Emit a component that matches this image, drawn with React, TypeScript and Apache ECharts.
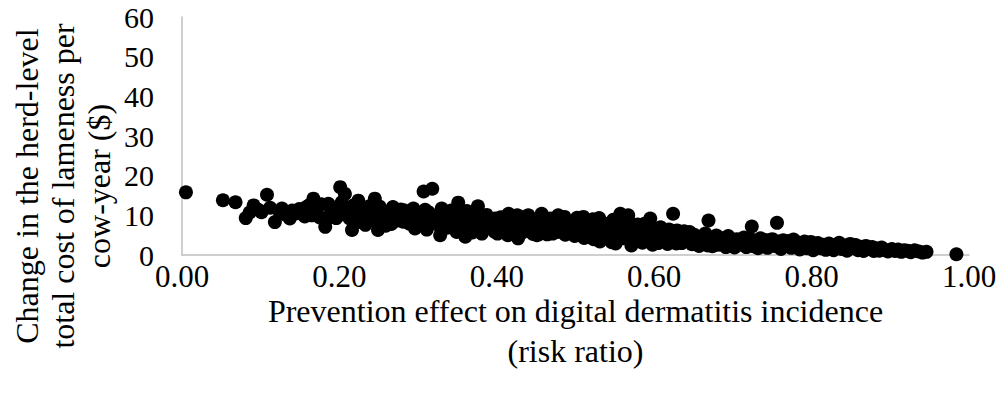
import React, { useEffect, useRef } from "react";
import * as echarts from "echarts";

// Times-compatible serif face
const FONT = '"Liberation Serif", "Times New Roman", serif';

const xTitle = "Prevention effect on digital dermatitis incidence\n(risk ratio)";
const yTitle = "Change in the herd-level\ntotal cost of lameness per\ncow-year ($)";

const xMin = 0;
const xMax = 1;
const xStep = 0.2;
const yMin = 0;
const yMax = 60;
const yStep = 10;

// [risk ratio, change in cost per cow-year ($)]
const tailPoints: [number, number][] = [
  [0.005, 15.8], [0.052, 13.8], [0.068, 13.3],
  [0.081, 9.3], [0.086, 10.7], [0.091, 12.5], [0.097, 11.4], [0.101, 10.8], [0.108, 15.2], [0.112, 11.9], [0.118, 8.3],
  [0.124, 10.9], [0.127, 11.7], [0.131, 10.2], [0.137, 9.2], [0.14, 11.2], [0.145, 10.5], [0.149, 11.6], [0.152, 10.8], [0.156, 9.7], [0.158, 12.1],
  [0.162, 12.6], [0.165, 10.0], [0.167, 14.2], [0.171, 11.4], [0.175, 9.5], [0.177, 12.8], [0.182, 7.1], [0.184, 9.0], [0.186, 12.9], [0.189, 10.6], [0.193, 11.7], [0.196, 9.3], [0.199, 12.2],
];

const lowRatioPoints: [number, number][] = [
  [0.201, 17.1], [0.203, 13.3], [0.205, 10.3], [0.207, 15.4], [0.21, 11.2], [0.213, 9.2], [0.216, 6.3], [0.218, 12.5], [0.22, 8.2], [0.222, 10.6], [0.224, 13.7], [0.226, 11.5], [0.228, 8.3], [0.231, 11.9], [0.233, 7.6], [0.235, 9.7], [0.238, 12.3],
  [0.242, 9.1], [0.245, 14.2], [0.247, 11.2], [0.249, 6.3], [0.251, 12.2], [0.254, 10.8], [0.257, 8.6], [0.259, 7.4], [0.262, 9.9], [0.264, 11.1], [0.266, 7.8], [0.268, 12.1], [0.271, 10.5], [0.274, 8.7], [0.276, 9.4], [0.278, 11.5],
  [0.281, 8.4], [0.283, 11.2], [0.286, 9.5], [0.289, 7.9], [0.292, 10.4], [0.294, 11.7], [0.296, 6.7], [0.298, 8.9], [0.302, 9.6], [0.305, 7.6], [0.307, 16.0], [0.309, 11.4], [0.311, 6.4], [0.313, 10.8], [0.316, 8.6], [0.318, 16.7], [0.319, 9.8],
  [0.322, 7.9], [0.325, 10.1], [0.328, 5.0], [0.33, 11.7], [0.331, 7.2], [0.334, 8.8], [0.337, 6.9], [0.339, 9.9], [0.342, 11.2], [0.344, 9.4], [0.347, 7.5], [0.349, 5.8], [0.351, 13.2], [0.353, 10.5], [0.356, 8.2], [0.358, 6.2],
  [0.36, 4.6], [0.362, 11.1], [0.364, 9.1], [0.367, 7.1], [0.369, 5.7], [0.371, 10.3], [0.374, 8.5], [0.376, 12.3], [0.378, 6.6], [0.381, 5.4], [0.383, 9.6], [0.384, 8.0], [0.387, 10.1], [0.389, 7.4], [0.391, 6.8], [0.394, 8.9], [0.397, 5.9], [0.398, 9.2],
];

const midRatioPoints: [number, number][] = [
  [0.401, 5.4], [0.402, 7.7], [0.405, 9.5], [0.407, 8.7], [0.408, 6.3], [0.411, 8.2], [0.414, 5.0], [0.415, 10.4], [0.418, 7.1], [0.421, 9.1], [0.424, 6.8], [0.426, 10.0], [0.427, 4.2], [0.429, 8.0], [0.432, 5.6], [0.433, 6.5], [0.435, 9.5], [0.438, 7.3],
  [0.44, 10.0], [0.443, 7.9], [0.445, 9.1], [0.446, 5.3], [0.449, 8.6], [0.451, 5.0], [0.452, 6.6], [0.455, 5.4], [0.457, 10.4], [0.458, 7.6], [0.462, 8.4], [0.464, 5.2], [0.465, 6.2], [0.468, 9.2], [0.47, 8.0], [0.471, 5.4], [0.474, 7.4], [0.477, 5.8], [0.478, 10.0],
  [0.481, 9.2], [0.484, 6.9], [0.486, 9.6], [0.487, 5.1], [0.49, 8.3], [0.493, 5.6], [0.494, 6.4], [0.496, 7.6], [0.499, 4.8], [0.502, 9.4], [0.503, 7.0], [0.505, 5.2], [0.508, 7.8], [0.51, 9.6], [0.511, 4.3], [0.514, 8.6], [0.517, 6.2], [0.519, 4.6],
  [0.522, 9.0], [0.523, 4.0], [0.525, 5.8], [0.528, 7.4], [0.53, 9.3], [0.531, 3.4], [0.534, 8.2], [0.537, 4.8], [0.539, 6.6], [0.542, 7.8], [0.545, 5.3], [0.546, 3.2], [0.548, 8.9], [0.551, 2.9], [0.553, 8.2], [0.554, 6.6], [0.557, 10.4], [0.559, 4.2],
  [0.562, 7.2], [0.563, 5.5], [0.565, 4.7], [0.567, 10.0], [0.568, 8.4], [0.571, 2.4], [0.574, 6.1], [0.577, 3.6], [0.579, 7.7], [0.582, 6.5], [0.584, 5.3], [0.585, 3.1], [0.588, 7.9], [0.591, 4.8], [0.593, 6.9], [0.595, 9.2], [0.598, 2.6], [0.599, 4.1],
];

const highRatioPoints: [number, number][] = [
  [0.602, 6.3], [0.605, 3.0], [0.606, 3.9], [0.608, 7.0], [0.611, 4.6], [0.614, 5.8], [0.617, 2.8], [0.619, 6.4], [0.622, 5.2], [0.624, 10.4], [0.626, 3.5], [0.628, 2.9], [0.629, 6.2], [0.632, 4.5], [0.635, 3.0], [0.636, 5.3], [0.638, 6.0],
  [0.642, 4.1], [0.645, 5.8], [0.646, 5.0], [0.648, 2.7], [0.651, 5.1], [0.654, 3.5], [0.657, 2.3], [0.659, 4.6], [0.662, 3.8], [0.665, 5.4], [0.668, 2.4], [0.669, 8.7], [0.671, 4.5], [0.674, 2.2], [0.677, 3.3], [0.679, 4.9],
  [0.682, 2.6], [0.685, 4.3], [0.688, 3.1], [0.691, 2.0], [0.694, 4.8], [0.697, 2.8], [0.699, 3.8], [0.702, 1.9], [0.705, 4.0], [0.708, 2.6], [0.711, 3.4], [0.714, 4.4], [0.717, 2.0], [0.719, 3.0],
  [0.722, 4.1], [0.724, 7.2], [0.726, 2.2], [0.729, 3.5], [0.732, 1.7], [0.735, 4.2], [0.738, 2.8], [0.741, 3.8], [0.744, 1.8], [0.747, 3.1], [0.75, 4.0], [0.753, 2.3], [0.756, 8.1], [0.758, 3.4],
  [0.761, 1.5], [0.764, 3.7], [0.767, 2.6], [0.771, 3.5], [0.774, 1.8], [0.777, 3.9], [0.779, 2.8], [0.782, 3.2], [0.785, 1.4], [0.788, 2.5], [0.791, 3.4], [0.794, 1.7], [0.797, 2.8], [0.799, 3.3],
  [0.802, 1.2], [0.805, 2.4], [0.808, 3.0], [0.812, 1.7], [0.815, 2.6], [0.818, 1.3], [0.822, 2.9], [0.825, 2.1], [0.828, 1.2], [0.832, 2.6], [0.835, 3.1], [0.838, 1.5],
  [0.842, 2.4], [0.845, 1.1], [0.849, 2.8], [0.852, 1.8], [0.856, 2.5], [0.859, 1.2], [0.862, 2.1], [0.866, 1.0], [0.869, 2.3], [0.873, 1.5], [0.877, 2.0], [0.879, 1.0],
  [0.882, 1.7], [0.886, 1.1], [0.889, 1.9], [0.893, 1.3], [0.897, 0.9], [0.902, 1.5], [0.906, 1.0], [0.91, 1.4], [0.914, 0.8], [0.918, 1.2], [0.922, 1.1], [0.926, 0.7], [0.931, 1.2], [0.936, 0.9], [0.941, 0.6], [0.946, 0.8],
  [0.984, 0.2],
];

const allPoints = [...tailPoints, ...lowRatioPoints, ...midRatioPoints, ...highRatioPoints];

export default function App() {
  const ref = useRef<HTMLDivElement>(null);

  useEffect(() => {
    if (!ref.current) return;
    const chart = echarts.init(ref.current, null, { renderer: "svg" });
    chart.setOption({
      animation: false,
      backgroundColor: "#ffffff",
      grid: { left: 182, right: 33, top: 17, bottom: 141 },
      xAxis: {
        type: "value",
        min: xMin,
        max: xMax,
        interval: xStep,
        axisLine: { show: true, lineStyle: { color: "#bfbfbf", width: 1.5 } },
        axisTick: { show: false },
        splitLine: { show: false },
        axisLabel: {
          formatter: (v: number) => v.toFixed(2),
          color: "#000",
          fontFamily: FONT,
          fontSize: 31,
          margin: 6,
        },
        name: xTitle,
        nameLocation: "middle",
        nameGap: 36,
        nameMoveOverlap: false,
        nameTextStyle: {
          color: "#000",
          fontFamily: FONT,
          fontSize: 32,
          lineHeight: 40,
          verticalAlign: "top",
        },
      },
      yAxis: {
        type: "value",
        min: yMin,
        max: yMax,
        interval: yStep,
        axisLine: { show: true, lineStyle: { color: "#bfbfbf", width: 1.5 } },
        axisTick: { show: false },
        splitLine: { show: false },
        axisLabel: {
          color: "#000",
          fontFamily: FONT,
          fontSize: 30,
          margin: 28,
        },
      },
      graphic: [
        {
          type: "text",
          x: 63,
          y: 186,
          rotation: Math.PI / 2,
          style: {
            text: yTitle,
            fontFamily: FONT,
            fontSize: 32,
            lineHeight: 36,
            align: "center",
            verticalAlign: "middle",
            fill: "#000",
          },
        },
      ],
      series: [
        {
          type: "scatter",
          data: allPoints,
          symbol: "circle",
          symbolSize: 14,
          itemStyle: { color: "#000000", opacity: 1 },
        },
      ],
    });
    return () => chart.dispose();
  }, []);

  return (
    <div
      ref={ref}
      style={{ position: "absolute", left: 0, top: 0, width: 1002, height: 396 }}
    />
  );
}
